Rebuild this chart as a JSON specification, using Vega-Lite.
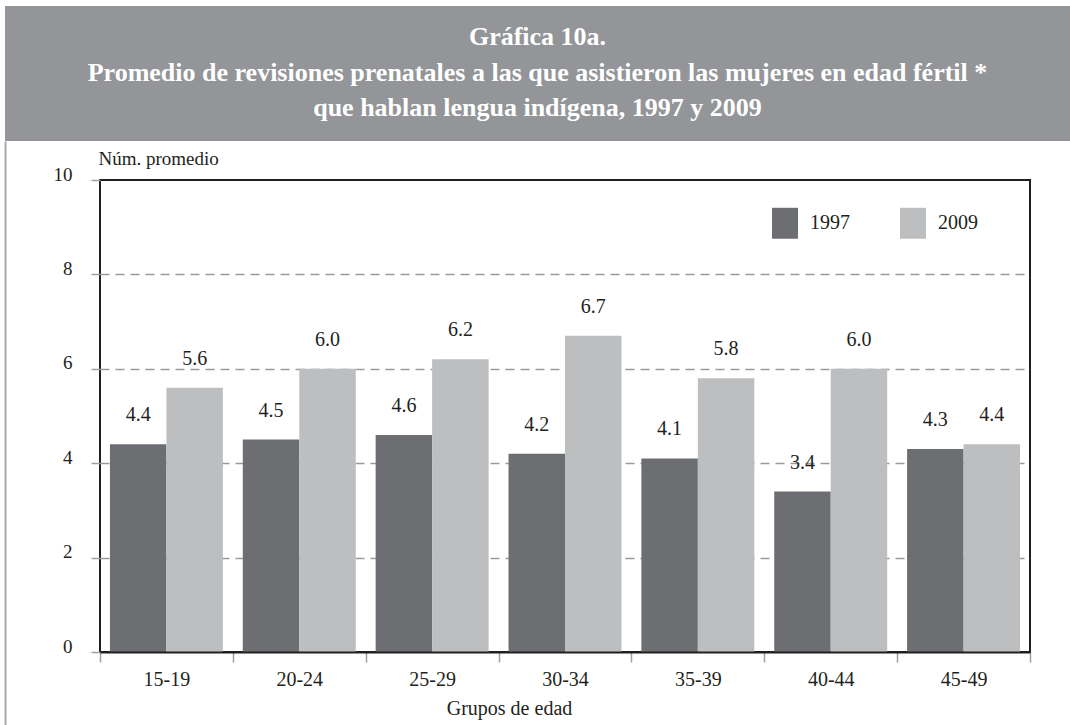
{
  "$schema": "https://vega.github.io/schema/vega-lite/v6.json",
  "background": "white",
  "padding": {"left": 5, "top": 6, "right": 0, "bottom": 0},
  "bounds": "flush",
  "spacing": 39,
  "config": {
    "font": "Liberation Serif",
    "view": {"stroke": null},
    "axis": {"labelFont": "Liberation Serif", "titleFont": "Liberation Serif"},
    "legend": {"labelFont": "Liberation Serif", "titleFont": "Liberation Serif"},
    "text": {"font": "Liberation Serif"}
  },
  "vconcat": [
    {
      "width": 1065,
      "height": 135,
      "view": {"fill": "#939598", "stroke": null},
      "data": {"values": [
        {"line": 1, "text": "Gráfica 10a."},
        {"line": 2, "text": "Promedio de revisiones prenatales a las que asistieron las mujeres en edad fértil *"},
        {"line": 3, "text": "que hablan lengua indígena, 1997 y 2009"}
      ]},
      "mark": {"type": "text", "font": "Liberation Serif", "fontWeight": "bold", "fontSize": 26, "color": "white", "baseline": "alphabetic", "dy": 7},
      "encoding": {
        "y": {"field": "line", "type": "ordinal", "scale": {"type": "point", "padding": 0.9}, "axis": null},
        "text": {"field": "text"}
      }
    },
    {
      "bounds": "flush",
      "spacing": 0,
      "hconcat": [
        {
          "width": 95,
          "height": 545,
          "view": {"stroke": null},
          "data": {"values": [{"v": 0}]},
          "mark": {"type": "point", "opacity": 0},
          "encoding": {
            "y": {"field": "v", "type": "quantitative", "scale": {"domain": [0, 1], "range": [545, -39]},
              "axis": {"domain": true, "domainColor": "#a7a9ac", "domainWidth": 2, "ticks": false, "labels": false, "grid": false, "title": null}}
          }
        },
        {
          "width": 930,
          "height": 472,
          "view": {"stroke": "#231f20", "strokeWidth": 2},
          "data": {"values": [
            {"group": "15-19", "year": "1997", "value": 4.4},
            {"group": "15-19", "year": "2009", "value": 5.6},
            {"group": "20-24", "year": "1997", "value": 4.5},
            {"group": "20-24", "year": "2009", "value": 6.0},
            {"group": "25-29", "year": "1997", "value": 4.6},
            {"group": "25-29", "year": "2009", "value": 6.2},
            {"group": "30-34", "year": "1997", "value": 4.2},
            {"group": "30-34", "year": "2009", "value": 6.7},
            {"group": "35-39", "year": "1997", "value": 4.1},
            {"group": "35-39", "year": "2009", "value": 5.8},
            {"group": "40-44", "year": "1997", "value": 3.4},
            {"group": "40-44", "year": "2009", "value": 6.0},
            {"group": "45-49", "year": "1997", "value": 4.3},
            {"group": "45-49", "year": "2009", "value": 4.4}
          ]},
          "encoding": {
            "x": {"field": "group", "type": "nominal", "sort": null,
              "scale": {"paddingInner": 0, "paddingOuter": 0},
              "axis": {"title": "Grupos de edad", "labelAngle": 0, "tickBand": "extent", "tickSize": 10, "tickColor": "#a0a0a0", "tickWidth": 1.5,
                "domainColor": "#231f20", "domainWidth": 2, "labelFont": "Liberation Serif", "labelFontSize": 20, "labelColor": "#231f20", "labelBaseline": "alphabetic", "labelPadding": 23,
                "titleY": 62, "titleX": 409, "titleAlign": "center", "titleBaseline": "alphabetic", "titleFont": "Liberation Serif", "titleFontWeight": "normal", "titleFontSize": 20, "titleColor": "#231f20", "zindex": 1}},
            "xOffset": {"field": "year", "type": "nominal", "scale": {"paddingOuter": 0.176, "paddingInner": 0}},
            "y": {"field": "value", "type": "quantitative", "scale": {"domain": [0, 10], "nice": false},
              "axis": {"values": [0, 2, 4, 6, 8, 10], "title": "Núm. promedio", "titleAngle": 0, "titleAlign": "left", "titleBaseline": "alphabetic",
                "titleX": -2, "titleY": -16, "titleFont": "Liberation Serif", "titleFontWeight": "normal", "titleFontSize": 19, "titleColor": "#231f20",
                "labelFont": "Liberation Serif", "labelFontSize": 19, "labelColor": "#231f20", "labelBaseline": "alphabetic", "labelPadding": 19,
                "tickSize": 9, "tickColor": "#a0a0a0", "tickWidth": 1.5, "domain": false,
                "grid": true, "gridColor": "#9a9a9a", "gridDash": [9, 6], "gridWidth": 1.5,
                "gridOpacity": {"condition": {"test": "datum.value === 0 || datum.value === 10", "value": 0}, "value": 1}}}
          },
          "layer": [
            {
              "mark": {"type": "bar"},
              "encoding": {
                "color": {"field": "year", "type": "nominal",
                  "scale": {"domain": ["1997", "2009"], "range": ["#6d6e71", "#bcbec0"]},
                  "legend": {"orient": "none", "legendX": 767, "legendY": 204, "direction": "horizontal", "title": null,
                    "symbolType": "M-1,-1.19H1V1.19H-1Z", "symbolSize": 676, "symbolStrokeWidth": 0, "symbolOpacity": 1,
                    "labelFont": "Liberation Serif", "labelFontSize": 20, "labelOffset": 12, "columnPadding": 50, "labelColor": "#231f20", "padding": 0}}
              }
            },
            {
              "mark": {"type": "text", "font": "Liberation Serif", "baseline": "alphabetic", "dy": -23, "fontSize": 20, "color": "#231f20"},
              "encoding": {"text": {"field": "value", "type": "quantitative", "format": ".1f"}}
            }
          ]
        }
      ]
    }
  ]
}
